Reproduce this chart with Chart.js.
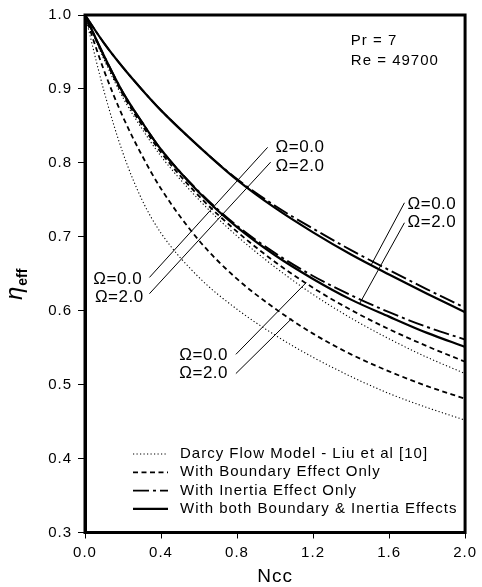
<!DOCTYPE html>
<html>
<head>
<meta charset="utf-8">
<script src="https://cdn.jsdelivr.net/npm/chart.js@4.4.0/dist/chart.umd.min.js"></script>
<style>
  html, body { margin: 0; padding: 0; background: #fff; }
  #wrap { width: 482px; height: 587px; }
</style>
</head>
<body>
<div id="wrap"><canvas id="c" width="482" height="587"></canvas></div>
<script>
// Fin efficiency vs. Ncc, Pr = 7, Re = 49700
const ncc = [0, 0.1, 0.2, 0.3, 0.4, 0.6, 0.8, 1.0, 1.2, 1.4, 1.6, 1.8, 2.0];

// Darcy flow model (Liu et al [10])
const darcyOmega0 = [1.0, 0.940, 0.888, 0.846, 0.809, 0.750, 0.701, 0.659, 0.622, 0.590, 0.562, 0.537, 0.515];
const darcyOmega2 = [1.0, 0.897, 0.813, 0.750, 0.705, 0.645, 0.602, 0.567, 0.537, 0.511, 0.488, 0.469, 0.452];
// Boundary effect only
const boundaryOmega0 = [1.0, 0.943, 0.892, 0.851, 0.814, 0.755, 0.707, 0.666, 0.631, 0.601, 0.575, 0.552, 0.531];
const boundaryOmega2 = [1.0, 0.925, 0.862, 0.810, 0.765, 0.695, 0.643, 0.603, 0.569, 0.541, 0.518, 0.498, 0.481];
// Inertia effect only
const inertiaOmega0 = [1.0, 0.962, 0.929, 0.899, 0.871, 0.822, 0.778, 0.742, 0.711, 0.682, 0.655, 0.629, 0.604];
const inertiaOmega2 = [1.0, 0.945, 0.895, 0.855, 0.818, 0.761, 0.715, 0.678, 0.647, 0.621, 0.598, 0.578, 0.561];
// Both boundary & inertia effects
const bothOmega0 = [1.0, 0.962, 0.929, 0.899, 0.871, 0.822, 0.777, 0.739, 0.706, 0.676, 0.649, 0.623, 0.598];
const bothOmega2 = [1.0, 0.945, 0.895, 0.855, 0.818, 0.760, 0.713, 0.675, 0.643, 0.615, 0.592, 0.570, 0.551];

const xTicks = [0, 0.4, 0.8, 1.2, 1.6, 2.0];
const yTicks = [0.3, 0.4, 0.5, 0.6, 0.7, 0.8, 0.9, 1.0];

const legendLabels = [
  'Darcy Flow Model - Liu et al [10]',
  'With Boundary Effect Only',
  'With Inertia Effect Only',
  'With both Boundary & Inertia Effects'
];

const FONT = "'Liberation Sans', Arial, Helvetica, sans-serif";

// line styles per model
const styles = {
  darcy:    { borderWidth: 1.1, borderDash: [1.2, 2.3] },
  boundary: { borderWidth: 1.8, borderDash: [5, 3.5] },
  inertia:  { borderWidth: 1.9, borderDash: [16, 4, 3, 4] },
  both:     { borderWidth: 2.2, borderDash: [] }
};

const pts = arr => arr.map((v, i) => ({ x: ncc[i], y: v }));
const mk = (label, arr, st) => Object.assign({
  label, data: pts(arr), borderColor: '#000', backgroundColor: '#000',
  pointRadius: 0, fill: false, cubicInterpolationMode: 'monotone'
}, st);

const datasets = [
  mk(legendLabels[0], darcyOmega0, styles.darcy),
  mk(legendLabels[1], boundaryOmega0, styles.boundary),
  mk(legendLabels[2], inertiaOmega0, styles.inertia),
  mk(legendLabels[3], bothOmega0, styles.both),
  mk(legendLabels[0], darcyOmega2, styles.darcy),
  mk(legendLabels[1], boundaryOmega2, styles.boundary),
  mk(legendLabels[2], inertiaOmega2, styles.inertia),
  mk(legendLabels[3], bothOmega2, styles.both)
];

// Omega labels and leader lines, in data coordinates
const omegaTexts = [
  { t: '\u03A9=0.0', x: 1.003, y: 0.821 }, { t: '\u03A9=2.0', x: 1.003, y: 0.796 },
  { t: '\u03A9=0.0', x: 1.697, y: 0.744 }, { t: '\u03A9=2.0', x: 1.697, y: 0.719 },
  { t: '\u03A9=0.0', x: 0.044, y: 0.643 }, { t: '\u03A9=2.0', x: 0.052, y: 0.618 },
  { t: '\u03A9=0.0', x: 0.496, y: 0.539 }, { t: '\u03A9=2.0', x: 0.496, y: 0.515 }
];
const leaders = [
  [0.339, 0.645, 0.961, 0.821],
  [0.339, 0.623, 0.977, 0.801],
  [0.794, 0.541, 1.164, 0.638],
  [0.794, 0.515, 1.086, 0.589],
  [1.681, 0.746, 1.504, 0.661],
  [1.681, 0.719, 1.446, 0.610]
];
const params = [
  { t: 'Pr = 7', x: 1.399, y: 0.9656 },
  { t: 'Re = 49700', x: 1.399, y: 0.9386 }
];

const spacingPlugin = {
  id: 'spacing',
  beforeInit(chart) { chart.ctx.letterSpacing = '1px'; },
  beforeUpdate(chart) { chart.ctx.letterSpacing = '1px'; },
  beforeDraw(chart) { chart.ctx.letterSpacing = '1px'; }
};

const decorPlugin = {
  id: 'decor',
  afterDraw(chart) {
    const { ctx, chartArea: a, scales: { x, y } } = chart;
    ctx.save();
    // frame
    ctx.strokeStyle = '#000';
    ctx.lineWidth = 3;
    ctx.strokeRect(a.left, a.top, a.right - a.left, a.bottom - a.top);

    // leader lines
    ctx.lineWidth = 1;
    ctx.setLineDash([]);
    leaders.forEach(l => {
      ctx.beginPath();
      ctx.moveTo(x.getPixelForValue(l[0]), y.getPixelForValue(l[1]));
      ctx.lineTo(x.getPixelForValue(l[2]), y.getPixelForValue(l[3]));
      ctx.stroke();
    });

    ctx.fillStyle = '#000';
    ctx.textBaseline = 'middle';
    ctx.textAlign = 'left';
    ctx.letterSpacing = '0.5px';
    ctx.font = '17px ' + FONT;
    omegaTexts.forEach(o => ctx.fillText(o.t, x.getPixelForValue(o.x), y.getPixelForValue(o.y)));

    ctx.font = '15px ' + FONT;
    ctx.letterSpacing = '1px';
    params.forEach(p => ctx.fillText(p.t, x.getPixelForValue(p.x), y.getPixelForValue(p.y)));

    // legend inside plot area
    const lx0 = 133, lx1 = 168, tx = 180, ly0 = 454, dy = 18.3;
    legendLabels.forEach((lab, i) => {
      const ds = chart.data.datasets[i];
      const yy = ly0 + i * dy;
      ctx.lineWidth = ds.borderWidth;
      ctx.setLineDash(ds.borderDash);
      ctx.beginPath();
      ctx.moveTo(lx0, yy);
      ctx.lineTo(lx1, yy);
      ctx.stroke();
      ctx.setLineDash([]);
      ctx.font = '15px ' + FONT;
      ctx.fillText(lab, tx, yy);
    });

    // y-axis title: eta with subscript "eff"
    ctx.translate(22, 300);
    ctx.rotate(-Math.PI / 2);
    ctx.letterSpacing = '0px';
    ctx.textBaseline = 'alphabetic';
    ctx.font = 'italic 24px ' + FONT;
    ctx.fillText('\u03B7', 0, 0);
    const w = ctx.measureText('\u03B7').width;
    ctx.font = 'bold 14px ' + FONT;
    ctx.fillText('eff', w + 1, 5);
    ctx.restore();
  }
};

Chart.defaults.font.family = FONT;
Chart.defaults.color = '#000';

new Chart(document.getElementById('c'), {
  type: 'line',
  data: { datasets },
  plugins: [spacingPlugin, decorPlugin],
  options: {
    responsive: false,
    devicePixelRatio: 1,
    animation: false,
    layout: { padding: { left: 0, right: 14, top: 13.5, bottom: 0 } },
    plugins: { legend: { display: false }, tooltip: { enabled: false } },
    scales: {
      x: {
        type: 'linear', min: 0, max: 2,
        afterFit(s) { s.height = 54.5; },
        afterBuildTicks(s) { s.ticks = xTicks.map(v => ({ value: v })); },
        ticks: { callback: v => v.toFixed(1), font: { size: 15 }, padding: 5, maxRotation: 0, autoSkip: false, color: '#000' },
        grid: { drawOnChartArea: false, drawTicks: true, tickLength: 6, tickColor: '#000', lineWidth: 1 },
        border: { display: true, color: '#000', width: 3 },
        title: { display: true, text: 'Ncc', font: { size: 19, lineHeight: 1 }, padding: { top: 0, bottom: 1 }, color: '#000' }
      },
      y: {
        type: 'linear', min: 0.3, max: 1.0,
        afterFit(s) { s.width = 85; },
        afterBuildTicks(s) { s.ticks = yTicks.map(v => ({ value: v })); },
        ticks: { callback: v => v.toFixed(1), font: { size: 15 }, padding: 6, autoSkip: false, color: '#000' },
        grid: { drawOnChartArea: false, drawTicks: true, tickLength: 7, tickColor: '#000', lineWidth: 1 },
        border: { display: true, color: '#000', width: 3 }
      }
    }
  }
});
</script>
</body>
</html>
